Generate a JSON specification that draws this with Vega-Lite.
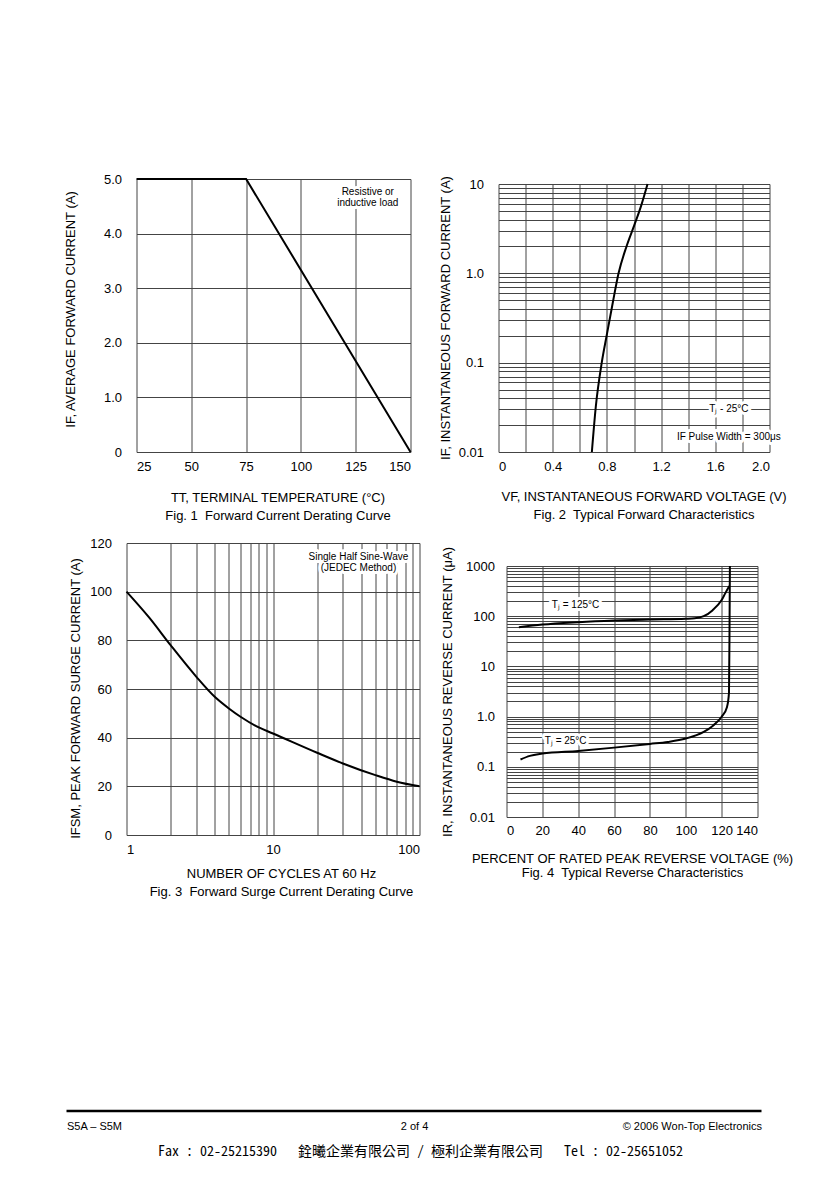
{
  "$schema": "https://vega.github.io/schema/vega-lite/v6.json",
  "background": "white",
  "padding": {"left": 63.5, "top": 173, "right": 0, "bottom": 0},
  "config": {
    "font": "Liberation Sans",
    "view": {"stroke": null},
    "axis": {
      "domain": false, "ticks": false, "tickSize": 0, "grid": true,
      "gridColor": "#444", "gridWidth": 1, "gridOpacity": 1,
      "labelFont": "Liberation Sans", "labelFontSize": 13, "labelColor": "#000",
      "titleFont": "Liberation Sans", "titleFontSize": 13, "titleFontWeight": "normal", "titleColor": "#000",
      "labelOverlap": false, "labelPadding": 15, "titleLineHeight": 18
    }
  },
  "datasets": {
    "fig1": [
      {"temp": 25, "current": 5},
      {"temp": 75, "current": 5},
      {"temp": 150, "current": 0}
    ],
    "fig1_notes": [
      {"temp": 130.5, "current": 4.76, "label": "Resistive or\ninductive load"}
    ],
    "fig2": [
      {"voltage": 0.689, "current": 0.01},
      {"voltage": 0.718, "current": 0.032},
      {"voltage": 0.762, "current": 0.1},
      {"voltage": 0.798, "current": 0.2},
      {"voltage": 0.844, "current": 0.475},
      {"voltage": 0.886, "current": 1.0},
      {"voltage": 0.947, "current": 2.05},
      {"voltage": 1.001, "current": 3.42},
      {"voltage": 1.053, "current": 5.73},
      {"voltage": 1.1, "current": 10}
    ],
    "fig2_notes": [
      {"voltage": 1.7, "current": 0.0306, "label": "Tⱼ - 25°C"},
      {"voltage": 1.7, "current": 0.0148, "label": "IF Pulse Width = 300μs"}
    ],
    "fig3": [
      {"cycles": 1, "current": 100},
      {"cycles": 1.43, "current": 89.3},
      {"cycles": 2, "current": 78},
      {"cycles": 3, "current": 65},
      {"cycles": 4, "current": 56.8},
      {"cycles": 5, "current": 52},
      {"cycles": 6, "current": 48.6},
      {"cycles": 8, "current": 44.2},
      {"cycles": 10, "current": 41.7},
      {"cycles": 20, "current": 33.8},
      {"cycles": 30, "current": 29.4},
      {"cycles": 50, "current": 24.6},
      {"cycles": 70, "current": 21.9},
      {"cycles": 100, "current": 20}
    ],
    "fig3_notes": [
      {"cycles": 38.3, "current": 114.4, "label": "Single Half Sine-Wave\n(JEDEC Method)"}
    ],
    "fig4": [
      {"series": "Tj = 125°C", "pct": 6.9, "current": 60},
      {"series": "Tj = 125°C", "pct": 20, "current": 68},
      {"series": "Tj = 125°C", "pct": 40, "current": 76},
      {"series": "Tj = 125°C", "pct": 60, "current": 82},
      {"series": "Tj = 125°C", "pct": 80, "current": 86},
      {"series": "Tj = 125°C", "pct": 100, "current": 89},
      {"series": "Tj = 125°C", "pct": 105, "current": 91},
      {"series": "Tj = 125°C", "pct": 110, "current": 100},
      {"series": "Tj = 125°C", "pct": 115, "current": 132},
      {"series": "Tj = 125°C", "pct": 120, "current": 210},
      {"series": "Tj = 125°C", "pct": 122, "current": 285},
      {"series": "Tj = 125°C", "pct": 124.3, "current": 400},
      {"series": "Tj = 25°C", "pct": 7.8, "current": 0.14},
      {"series": "Tj = 25°C", "pct": 13, "current": 0.165},
      {"series": "Tj = 25°C", "pct": 20, "current": 0.183},
      {"series": "Tj = 25°C", "pct": 40, "current": 0.207},
      {"series": "Tj = 25°C", "pct": 60, "current": 0.241},
      {"series": "Tj = 25°C", "pct": 80, "current": 0.286},
      {"series": "Tj = 25°C", "pct": 90, "current": 0.313},
      {"series": "Tj = 25°C", "pct": 100, "current": 0.365},
      {"series": "Tj = 25°C", "pct": 110, "current": 0.496},
      {"series": "Tj = 25°C", "pct": 115, "current": 0.653},
      {"series": "Tj = 25°C", "pct": 120, "current": 0.99},
      {"series": "Tj = 25°C", "pct": 123, "current": 1.56},
      {"series": "Tj = 25°C", "pct": 124.1, "current": 3},
      {"series": "Tj = 25°C", "pct": 124.4, "current": 60},
      {"series": "Tj = 25°C", "pct": 124.6, "current": 1000}
    ],
    "fig4_notes": [
      {"pct": 38.5, "current": 167, "label": "Tⱼ = 125°C"},
      {"pct": 33, "current": 0.328, "label": "Tⱼ = 25°C"}
    ],
    "footer": [
      {"start": 0, "end": 1}
    ]
  },
  "spacing": 211,
  "vconcat": [
    {
      "spacing": 15,
      "vconcat": [
        {
          "spacing": 24,
          "hconcat": [
            {
              "width": 284, "height": 273,
              "layer": [
                {
                  "data": {"name": "fig1"},
                  "mark": {"type": "line", "color": "#000", "strokeWidth": 2},
                  "encoding": {
                    "x": {"field": "temp", "type": "quantitative",
                      "scale": {"domain": [25, 150], "nice": false, "zero": false, "range": [10, 284]},
                      "axis": {"values": [25, 37.5, 50, 62.5, 75, 87.5, 100, 112.5, 125, 137.5, 150],
                        "labelExpr": "datum.value % 25 == 0 ? datum.label : ''",
                        "labelPadding": 8,
                        "title": ["TT, TERMINAL TEMPERATURE (°C)", "Fig. 1\u00a0 Forward Current Derating Curve"],
                        "titlePadding": 18, "titleX": 151}},
                    "y": {"field": "current", "type": "quantitative",
                      "scale": {"domain": [0, 5], "nice": false},
                      "axis": {"values": [0, 1, 2, 3, 4, 5],
                        "labelExpr": "datum.value == 0 ? '0' : format(datum.value, '.1f')",
                        "labelPadding": 5,
                        "title": "IF, AVERAGE FORWARD CURRENT (A)",
                        "titlePadding": 26, "titleY": 130}}
                  }
                },
                {
                  "data": {"name": "fig1_notes"},
                  "mark": {"type": "text", "fontSize": 10, "lineBreak": "\n", "lineHeight": 11, "fill": "#fff", "stroke": "#fff", "strokeWidth": 6, "strokeJoin": "round"},
                  "encoding": {
                    "x": {"field": "temp", "type": "quantitative"},
                    "y": {"field": "current", "type": "quantitative"},
                    "text": {"field": "label"}
                  }
                },
                {
                  "data": {"name": "fig1_notes"},
                  "mark": {"type": "text", "fontSize": 10, "lineBreak": "\n", "lineHeight": 11, "color": "#000"},
                  "encoding": {
                    "x": {"field": "temp", "type": "quantitative"},
                    "y": {"field": "current", "type": "quantitative"},
                    "text": {"field": "label"}
                  }
                }
              ]
            },
            {
              "width": 271, "height": 273,
              "resolve": {"axis": {"x": "independent"}},
              "layer": [
                {
                  "data": {"name": "fig2"},
                  "mark": {"type": "line", "color": "#000", "strokeWidth": 2, "interpolate": "monotone"},
                  "encoding": {
                    "x": {"field": "voltage", "type": "quantitative",
                      "scale": {"domain": [0, 2], "nice": false},
                      "axis": {"orient": "bottom", "grid": false,
                        "values": [0, 0.4, 0.8, 1.2, 1.6, 2.0],
                        "labelExpr": "datum.value == 0 ? '0' : format(datum.value, '.1f')",
                        "labelPadding": 8,
                        "title": ["VF, INSTANTANEOUS FORWARD VOLTAGE (V)", "Fig. 2\u00a0 Typical Forward Characteristics"],
                        "titlePadding": 17, "titleX": 145}},
                    "y": {"field": "current", "type": "quantitative",
                      "scale": {"type": "log", "domain": [0.01, 10], "nice": false, "range": [273, 5]},
                      "axis": {"values": [0.01, 0.02, 0.03, 0.04, 0.05, 0.06, 0.07, 0.08, 0.09, 0.1, 0.2, 0.3, 0.4, 0.5, 0.6, 0.7, 0.8, 0.9, 1, 2, 3, 4, 5, 6, 7, 8, 9, 10],
                        "labelExpr": "datum.value == 0.01 ? '0.01' : datum.value == 0.1 ? '0.1' : datum.value == 1 ? '1.0' : datum.value == 10 ? '10' : ''",
                        "labelPadding": 15,
                        "title": "IF, INSTANTANEOUS FORWARD CURRENT (A)",
                        "titlePadding": 6, "titleY": 138.5}}
                  }
                },
                {
                  "data": {"name": "fig2_notes"},
                  "mark": {"type": "text", "fontSize": 10, "fill": "#fff", "stroke": "#fff", "strokeWidth": 6, "strokeJoin": "round"},
                  "encoding": {
                    "x": {"field": "voltage", "type": "quantitative",
                      "axis": {"orient": "top", "grid": true, "labels": false, "title": null,
                        "values": [0, 0.2, 0.4, 0.6, 0.8, 1.0, 1.2, 1.4, 1.6, 1.8, 2.0]}},
                    "y": {"field": "current", "type": "quantitative"},
                    "text": {"field": "label"}
                  }
                },
                {
                  "data": {"name": "fig2_notes"},
                  "mark": {"type": "text", "fontSize": 10, "color": "#000"},
                  "encoding": {
                    "x": {"field": "voltage", "type": "quantitative", "axis": null},
                    "y": {"field": "current", "type": "quantitative"},
                    "text": {"field": "label"}
                  }
                }
              ]
            }
          ]
        },
        {
          "spacing": 18,
          "hconcat": [
            {
              "width": 293, "height": 292,
              "layer": [
                {
                  "data": {"name": "fig3"},
                  "mark": {"type": "line", "color": "#000", "strokeWidth": 2, "interpolate": "monotone"},
                  "encoding": {
                    "x": {"field": "cycles", "type": "quantitative",
                      "scale": {"type": "log", "domain": [1, 100], "nice": false},
                      "axis": {"values": [1, 2, 3, 4, 5, 6, 7, 8, 9, 10, 20, 30, 40, 50, 60, 70, 80, 90, 100],
                        "labelExpr": "datum.value == 1 ? '1' : datum.value == 10 ? '10' : datum.value == 100 ? '100' : ''",
                        "labelPadding": 8,
                        "title": ["NUMBER OF CYCLES AT 60 Hz", "Fig. 3\u00a0 Forward Surge Current Derating Curve"],
                        "titlePadding": 11, "titleX": 154.5}},
                    "y": {"field": "current", "type": "quantitative",
                      "scale": {"domain": [0, 120], "nice": false},
                      "axis": {"values": [0, 20, 40, 60, 80, 100, 120],
                        "labelPadding": 15,
                        "title": "IFSM, PEAK FORWARD SURGE CURRENT (A)",
                        "titlePadding": 7, "titleY": 155}}
                  }
                },
                {
                  "data": {"name": "fig3_notes"},
                  "mark": {"type": "text", "fontSize": 10, "lineBreak": "\n", "lineHeight": 11, "fill": "#fff", "stroke": "#fff", "strokeWidth": 6, "strokeJoin": "round"},
                  "encoding": {
                    "x": {"field": "cycles", "type": "quantitative"},
                    "y": {"field": "current", "type": "quantitative"},
                    "text": {"field": "label"}
                  }
                },
                {
                  "data": {"name": "fig3_notes"},
                  "mark": {"type": "text", "fontSize": 10, "lineBreak": "\n", "lineHeight": 11, "color": "#000"},
                  "encoding": {
                    "x": {"field": "cycles", "type": "quantitative"},
                    "y": {"field": "current", "type": "quantitative"},
                    "text": {"field": "label"}
                  }
                }
              ]
            },
            {
              "width": 251, "height": 274,
              "resolve": {"axis": {"x": "independent"}},
              "layer": [
                {
                  "data": {"name": "fig4"},
                  "mark": {"type": "line", "color": "#000", "strokeWidth": 2, "interpolate": "monotone"},
                  "encoding": {
                    "x": {"field": "pct", "type": "quantitative",
                      "scale": {"domain": [0, 140], "nice": false, "zero": false},
                      "axis": {"orient": "bottom", "grid": false,
                        "values": [0, 20, 40, 60, 80, 100, 120, 140],
                        "labelExpr": "format(datum.value, 'd')",
                        "labelOverlap": false,
                        "labelPadding": 7,
                        "title": ["PERCENT OF RATED PEAK REVERSE VOLTAGE (%)", "Fig. 4\u00a0 Typical Reverse Characteristics"],
                        "titlePadding": 15, "titleLineHeight": 14}},
                    "y": {"field": "current", "type": "quantitative",
                      "scale": {"type": "log", "domain": [0.01, 1000], "nice": false, "range": [274, 23]},
                      "axis": {"values": [0.01, 0.02, 0.03, 0.04, 0.05, 0.06, 0.07, 0.08, 0.09, 0.1, 0.2, 0.3, 0.4, 0.5, 0.6, 0.7, 0.8, 0.9, 1, 2, 3, 4, 5, 6, 7, 8, 9, 10, 20, 30, 40, 50, 60, 70, 80, 90, 100, 200, 300, 400, 500, 600, 700, 800, 900, 1000],
                        "labelExpr": "datum.value == 0.01 ? '0.01' : datum.value == 0.1 ? '0.1' : datum.value == 1 ? '1.0' : datum.value == 10 ? '10' : datum.value == 100 ? '100' : datum.value == 1000 ? '1000' : ''",
                        "labelPadding": 12,
                        "title": "IR, INSTANTANEOUS REVERSE CURRENT (μA)",
                        "titlePadding": 11, "titleY": 148.5}},
                    "detail": {"field": "series", "type": "nominal"}
                  }
                },
                {
                  "data": {"name": "fig4_notes"},
                  "mark": {"type": "text", "fontSize": 10, "fill": "#fff", "stroke": "#fff", "strokeWidth": 6, "strokeJoin": "round"},
                  "encoding": {
                    "x": {"field": "pct", "type": "quantitative",
                      "axis": {"orient": "top", "grid": true, "labels": false, "title": null,
                        "values": [0, 20, 40, 60, 80, 100, 120, 140]}},
                    "y": {"field": "current", "type": "quantitative"},
                    "text": {"field": "label"}
                  }
                },
                {
                  "data": {"name": "fig4_notes"},
                  "mark": {"type": "text", "fontSize": 10, "color": "#000"},
                  "encoding": {
                    "x": {"field": "pct", "type": "quantitative", "axis": null},
                    "y": {"field": "current", "type": "quantitative"},
                    "text": {"field": "label"}
                  }
                }
              ]
            }
          ]
        }
      ]
    },
    {
      "width": 635, "height": 2,
      "data": {"name": "footer"},
      "mark": {"type": "rule", "color": "#000", "strokeWidth": 2.5},
      "encoding": {
        "x": {"field": "start", "type": "quantitative",
          "scale": {"domain": [0, 1], "nice": false, "range": [-60, 635]},
          "axis": {"values": [0, 0.5, 1], "grid": false,
            "labelExpr": "datum.value == 0 ? 'S5A – S5M' : datum.value == 1 ? '© 2006 Won-Top Electronics' : '2 of 4'",
            "labelFlush": true, "labelFontSize": 11, "labelPadding": 8,
            "title": "Fax\u00a0:\u00a002-25215390\u00a0\u00a0\u00a0銓曦企業有限公司\u00a0/\u00a0極利企業有限公司\u00a0\u00a0\u00a0Tel\u00a0:\u00a002-25651052",
            "titleFont": "Noto Sans Mono CJK TC, Liberation Serif, Noto Sans CJK TC", "titleFontSize": 14, "titlePadding": 13, "titleX": 293.5}},
        "x2": {"field": "end"}
      }
    }
  ]
}
